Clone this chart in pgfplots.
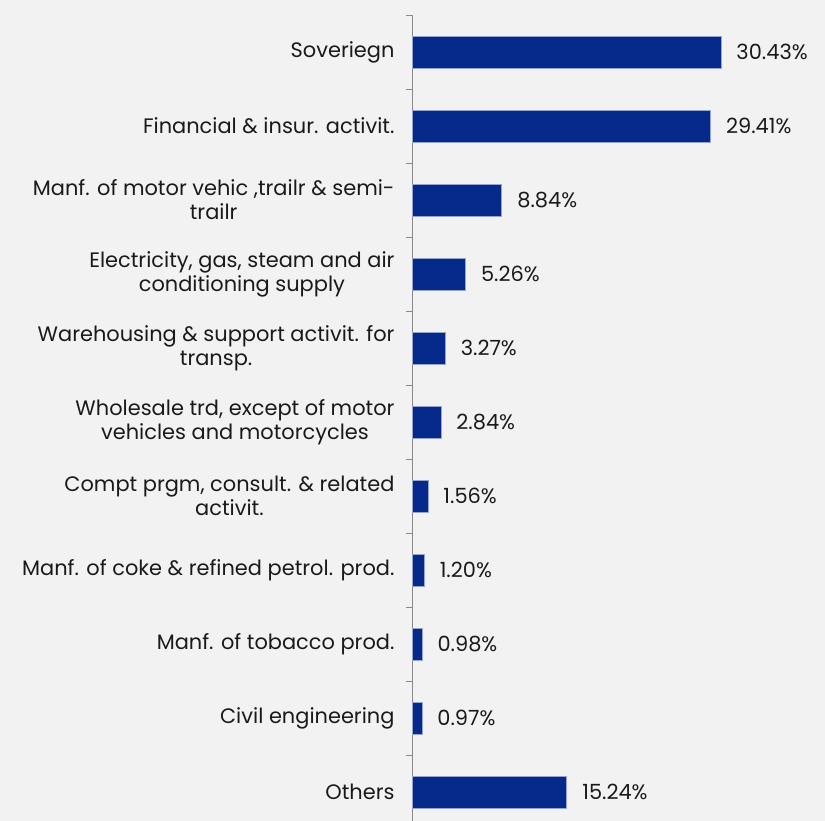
\documentclass[border=0pt]{standalone}
\usepackage{pgfplots}
\pgfplotsset{compat=1.18}
\usepackage{fontspec}
\setmainfont{Poppins}
\definecolor{bgc}{RGB}{242,242,242}
\definecolor{barc}{RGB}{6,42,140}
\definecolor{baredge}{RGB}{150,165,205}
\definecolor{axc}{RGB}{137,137,137}
\definecolor{txt}{RGB}{26,26,26}
\begin{document}
\begin{tikzpicture}
\path[use as bounding box, fill=bgc] (0,0) rectangle (825bp,821bp);
\begin{axis}[
  at={(412bp,0bp)}, anchor=south west,
  scale only axis, width=413bp, height=806bp,
  xmin=0, xmax=40.69,
  ymin=-0.5, ymax=10.39,
  y dir=reverse,
  clip=false,
  axis x line=none,
  axis y line*=left,
  axis line style={axc, line width=0.9bp},
  ytick={0,...,10},
  yticklabels={{Soveriegn},
    {Financial \& insur. activit.},
    {Manf. of motor vehic ,trailr \& semi-\\trailr},
    {Electricity, gas, steam and air\\conditioning supply},
    {Warehousing \& support activit. for\\transp.},
    {Wholesale trd, except of motor\\vehicles and motorcycles},
    {Compt prgm, consult. \& related\\activit.},
    {Manf. of coke \& refined petrol. prod.},
    {Manf. of tobacco prod.},
    {Civil engineering},
    {Others}},
  major tick length=0pt,
  minor ytick={-0.5,0.5,...,9.5},
  minor tick length=6bp,
  tick align=outside,
  minor tick style={axc, line width=0.9bp},
  yticklabel style={font=\fontsize{21}{24}\selectfont, text=txt, align=center, anchor=east, xshift=-14bp},
  /pgf/number format/assume math mode=true,
  xbar, bar width=32bp, bar shift=0pt,
  point meta=x,
  nodes near coords={\pgfmathprintnumber[fixed,fixed zerofill,precision=2]{\pgfplotspointmeta}\%},
  nodes near coords style={font=\fontsize{21}{24}\selectfont, text=txt, anchor=west, xshift=12bp},
]
\addplot[fill=barc, draw=baredge, line width=0.6bp] coordinates {
  (30.43,0) (29.41,1) (8.84,2) (5.26,3) (3.27,4) (2.84,5)
  (1.56,6) (1.20,7) (0.98,8) (0.97,9) (15.24,10)
};
\end{axis}
\end{tikzpicture}
\end{document}
